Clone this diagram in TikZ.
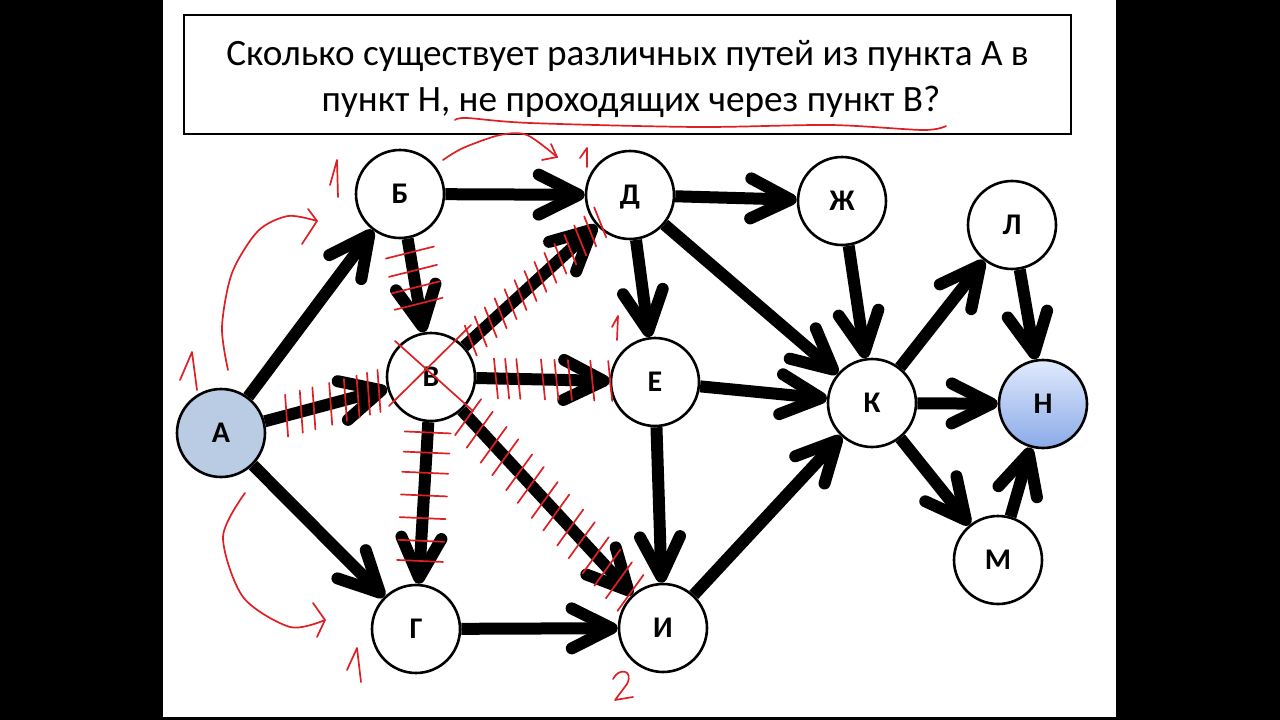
\documentclass[tikz,border=0pt]{standalone}
\usepackage{fontspec}
\setmainfont{Carlito}
\usetikzlibrary{arrows.meta,calc}
\pgfdeclarelayer{bg}
\pgfdeclarelayer{edges}
\pgfsetlayers{bg,edges,main}
\definecolor{redpen}{RGB}{222,32,36}
\definecolor{nodeA}{RGB}{185,204,228}
\definecolor{nTop}{RGB}{224,234,252}
\definecolor{nBot}{RGB}{138,170,232}
\tikzset{
  pnode/.style={circle, draw=black, line width=2.6pt, fill=white, minimum size=88pt,
    inner sep=0pt, font=\fontsize{30}{34}\selectfont\bfseries, text height=19pt, text depth=0pt},
  arr/.style={line width=12pt, -{Straight Barb[length=40pt,width=40pt,round]}},
  pen/.style={draw=redpen, line width=1.7pt, line cap=round, line join=round},
  titletext/.style={font=\fontsize{37.2}{45}\selectfont, anchor=base, inner sep=0pt},
}
\begin{document}
\begin{tikzpicture}[x=1pt,y=-1pt]
\useasboundingbox (0,0) rectangle (1280,720);
\begin{pgfonlayer}{bg}
  \fill[black] (0,0) rectangle (1280,720);
  \fill[white] (163,0) rectangle (1116,717);
\end{pgfonlayer}

% title
\node[draw=black, line width=2.2pt, minimum width=887pt, minimum height=119pt, inner sep=0pt] (box) at (627.5,74.5) {};
\node[titletext] (t1) at (627.5,65) {Сколько существует различных путей из пункта А в};
\node[titletext] (t2) at (631,111) {пункт Н, не проходящих через пункт В?};

% nodes
\node[pnode, fill=nodeA] (A) at (221,433) {А};
\node[pnode] (B) at (400,194) {Б};
\node[pnode] (V) at (431,377) {В};
\node[pnode] (G) at (416,629) {Г};
\node[pnode] (D) at (630,195) {Д};
\node[pnode] (E) at (655,382) {Е};
\node[pnode] (Zh) at (842,201) {Ж};
\node[pnode] (I) at (663,628) {И};
\node[pnode] (K) at (872,403) {К};
\node[pnode] (L) at (1012,225) {Л};
\node[pnode, top color=nTop, bottom color=nBot] (N) at (1043,404) {Н};
\node[pnode] (M) at (998,560) {М};

% edges
\begin{pgfonlayer}{edges}
  \draw[arr] (A) -- (B);
  \draw[arr] (A) -- (V);
  \draw[arr] (A) -- (G);
  \draw[arr] (B) -- (D);
  \draw[arr] (B) -- (V);
  \draw[arr] (V) -- (D);
  \draw[arr] (V) -- (E);
  \draw[arr] (V) -- (G);
  \draw[arr] (V) -- (I);
  \draw[arr] (D) -- (Zh);
  \draw[arr] (D) -- (E);
  \draw[arr] (D) -- (K);
  \draw[arr] (Zh) -- (K);
  \draw[arr] (E) -- (K);
  \draw[arr] (E) -- (I);
  \draw[arr] (G) -- (I);
  \draw[arr] (I) -- (K);
  \draw[arr] (K) -- (L);
  \draw[arr] (K) -- (N);
  \draw[arr] (K) -- (M);
  \draw[arr] (L) -- (N);
  \draw[arr] (M) -- (N);
\end{pgfonlayer}

% red pen annotations
\draw[pen] plot[smooth] coordinates {(455,120) (467,118) (530,123) (697,127) (830,125) (923,130) (946,126)};
% arcs
\draw[pen] plot[smooth] coordinates {(228,370) (222,327) (232,273) (258,231) (288,216) (317,221)};
\draw[pen] (308,209) -- (317,221) -- (302,244);
\draw[pen] plot[smooth] coordinates {(245,493) (223,537) (243,597) (290,627) (325,620)};
\draw[pen] (313,603) -- (325,620) -- (317,637);
\draw[pen] plot[smooth] coordinates {(443,160) (463,148) (500,135) (527,135) (557,157)};
\draw[pen] (551,144) -- (557,157) -- (542,160);
% numbers
\draw[pen] (180,380) -- (192,352) -- (197,390);
\draw[pen] (330,185) -- (337,160) -- (338,197);
\draw[pen] (580,158) -- (587,148) -- (587,167);
\draw[pen] (612,327) -- (618,316) -- (617,340);
\draw[pen] (347,670) -- (357,648) -- (361,682);
\draw[pen] (613,679) .. controls (619,667) and (634,670) .. (627,684) -- (615,700) -- (633,697);
% cross on V
\draw[pen] (395,341) -- (473,411);
\draw[pen] (471,325) -- (389,406);
% hatches
\foreach \t in {0.31,0.38,0.44,0.52,0.59,0.65,0.70,0.75}
  \draw[pen] ($(A)!\t!(V)$) ++(-1,-21) -- ++(3,42);
\foreach \t in {0.32,0.42,0.51,0.60}
  \draw[pen] ($(B)!\t!(V)$) ++(-24,6) -- ++(48,-12);
\foreach \t in {0.20,0.25,0.30,0.35,0.40,0.45,0.50,0.55,0.60,0.65,0.70,0.75,0.80,0.85}
  \draw[pen] ($(V)!\t!(D)$) ++(-6,-15) -- ++(12,30);
\foreach \t in {0.29,0.34,0.39,0.50,0.56,0.62,0.72,0.80}
  \draw[pen] ($(V)!\t!(E)$) ++(-2,-20) -- ++(4,40);
\foreach \t in {0.22,0.30,0.38,0.47,0.56,0.65,0.73}
  \draw[pen] ($(V)!\t!(G)$) ++(-23,-1) -- ++(46,2);
\foreach \t in {0.16,0.21,0.27,0.32,0.38,0.43,0.49,0.54,0.60,0.65,0.71,0.76,0.81,0.86}
  \draw[pen] ($(V)!\t!(I)$) ++(-13,18) -- ++(26,-36);
\end{tikzpicture}
\end{document}
